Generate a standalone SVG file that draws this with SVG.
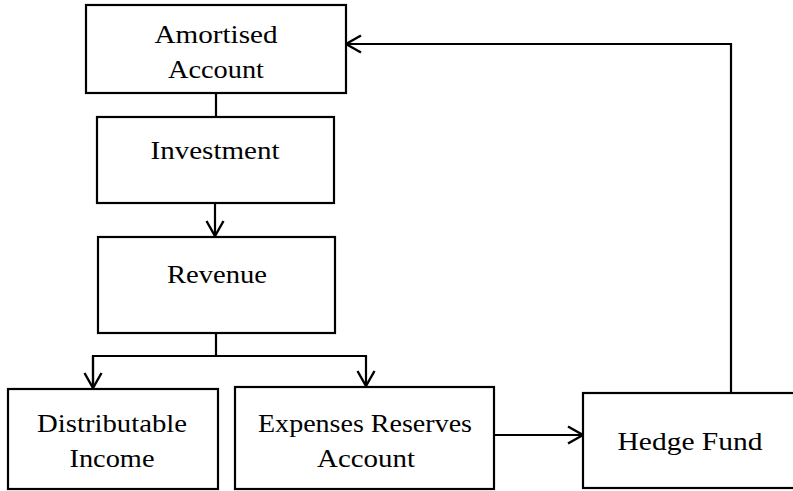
<svg xmlns="http://www.w3.org/2000/svg" width="793" height="491" viewBox="0 0 793 491">
<defs>
<style>
.box{fill:#fff;stroke:#000;stroke-width:2.2}
.lbl{font-family:"Liberation Serif","DejaVu Serif",serif;font-size:25px;fill:#000;text-anchor:middle}
.con{fill:none;stroke:#000;stroke-width:2.2}
</style>
<marker id="arr" viewBox="0 0 20 20" refX="18" refY="10" markerWidth="20" markerHeight="20" markerUnits="userSpaceOnUse" orient="auto">
<path d="M3,1.5 L18,10 L3,18.5" fill="none" stroke="#000" stroke-width="2.4"/>
</marker>
</defs>
<g id="connectors">
<line class="con" x1="216" y1="93" x2="216" y2="117"/>
<line class="con" x1="215" y1="203" x2="215" y2="236" marker-end="url(#arr)"/>
<line class="con" x1="216" y1="333" x2="216" y2="356"/>
<polyline class="con" points="93,386 93,356 366,356 366,386" marker-end="url(#arr)"/>
<line class="con" x1="93" y1="356" x2="93" y2="388" marker-end="url(#arr)"/>
<line class="con" x1="494" y1="435" x2="583" y2="435" marker-end="url(#arr)"/>
<polyline class="con" points="731,393 731,44 346,44" marker-end="url(#arr)"/>
</g>
<g id="amortised">
<rect class="box" x="86" y="5" width="260" height="88"/>
<text class="lbl" x="216" y="43" textLength="123" lengthAdjust="spacingAndGlyphs">Amortised</text>
<text class="lbl" x="216" y="78" textLength="96" lengthAdjust="spacingAndGlyphs">Account</text>
</g>
<g id="investment">
<rect class="box" x="97" y="117" width="237" height="86"/>
<text class="lbl" x="215" y="159" textLength="129" lengthAdjust="spacingAndGlyphs">Investment</text>
</g>
<g id="revenue">
<rect class="box" x="98" y="237" width="237" height="96"/>
<text class="lbl" x="217" y="283" textLength="100" lengthAdjust="spacingAndGlyphs">Revenue</text>
</g>
<g id="distributable">
<rect class="box" x="8" y="389" width="210" height="100"/>
<text class="lbl" x="112" y="432" textLength="150" lengthAdjust="spacingAndGlyphs">Distributable</text>
<text class="lbl" x="112" y="467" textLength="85" lengthAdjust="spacingAndGlyphs">Income</text>
</g>
<g id="expenses">
<rect class="box" x="235" y="387" width="259" height="102"/>
<text class="lbl" x="365" y="432" textLength="214" lengthAdjust="spacingAndGlyphs">Expenses Reserves</text>
<text class="lbl" x="366" y="467" textLength="98" lengthAdjust="spacingAndGlyphs">Account</text>
</g>
<g id="hedge">
<rect class="box" x="583" y="393" width="220" height="95"/>
<text class="lbl" x="690" y="450" textLength="145" lengthAdjust="spacingAndGlyphs">Hedge Fund</text>
</g>
</svg>
